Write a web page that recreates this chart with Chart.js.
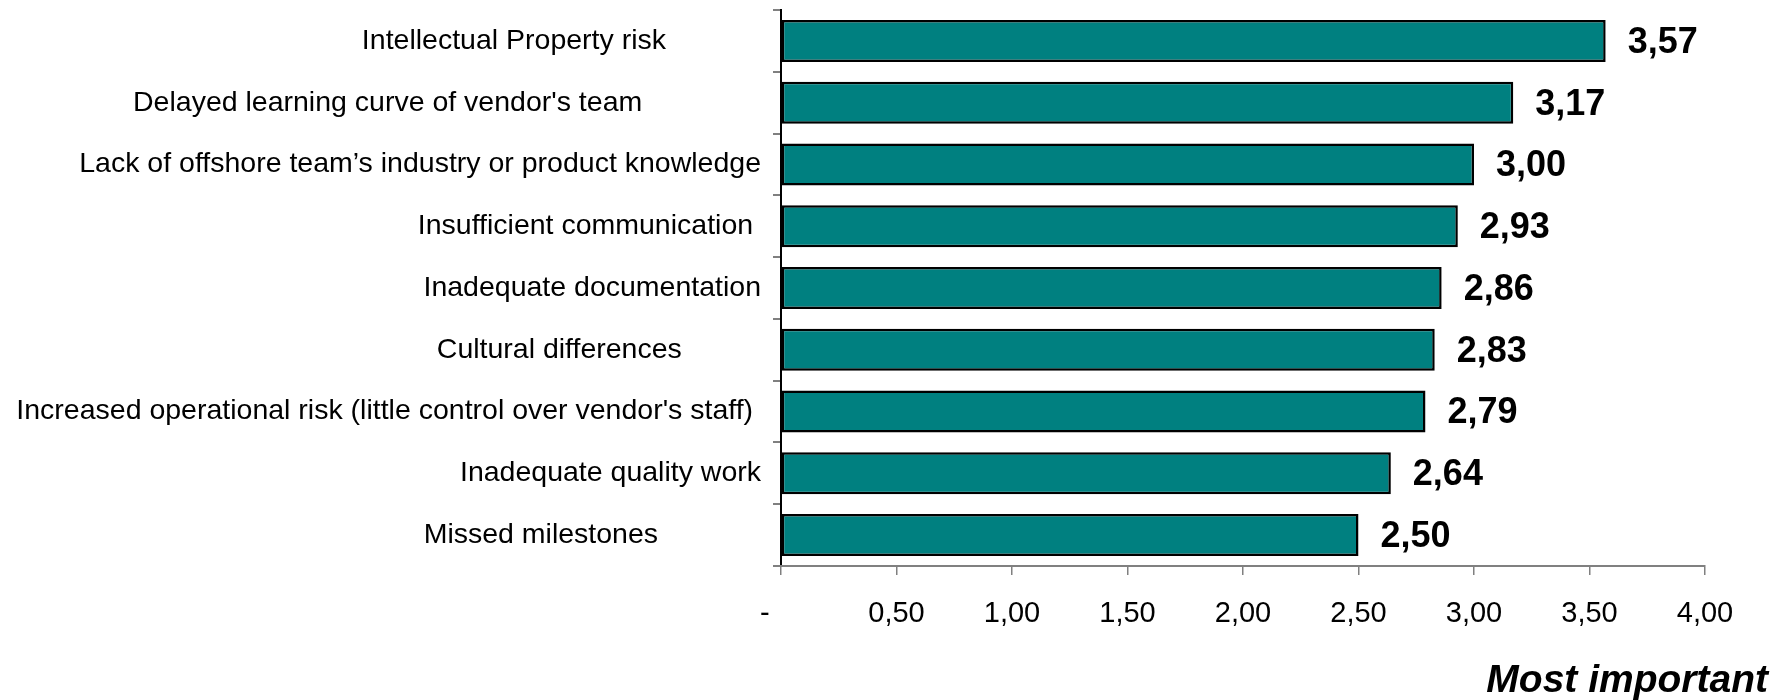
<!DOCTYPE html>
<html>
<head>
<meta charset="utf-8">
<script src="https://cdn.jsdelivr.net/npm/chart.js@4.4.1/dist/chart.umd.min.js"></script>
<style>
  html, body { margin: 0; padding: 0; background: #ffffff; }
  #wrap { width: 1791px; height: 700px; }
</style>
</head>
<body>
<div id="wrap"><canvas id="chart" width="1791" height="700"></canvas></div>
<script>
// Risk factors, top to bottom
const categories = [
  "Intellectual Property risk",
  "Delayed learning curve of vendor's team",
  "Lack of offshore team\u2019s industry or product knowledge",
  "Insufficient communication",
  "Inadequate documentation",
  "Cultural differences",
  "Increased operational risk (little control over vendor's staff)",
  "Inadequate quality work",
  "Missed milestones"
];

// Average importance score per factor
const scores = [3.57, 3.17, 3.00, 2.93, 2.86, 2.83, 2.79, 2.64, 2.50];

// Value axis tick values and their printed labels
const tickValues = [0, 0.5, 1, 1.5, 2, 2.5, 3, 3.5, 4];
const tickLabels = ["-", "0,50", "1,00", "1,50", "2,00", "2,50", "3,00", "3,50", "4,00"];

const axisTitle = "Most important";

const FONT = "'Liberation Sans', Arial, Helvetica, sans-serif";

// Category labels carry trailing blanks, as in the source sheet
const trailingBlanks = [12, 15, 0, 1, 0, 10, 1, 0, 13];

const fmt = v => v.toFixed(2).replace('.', ',');

const valueLabels = {
  id: 'valueLabels',
  afterDatasetsDraw(chart) {
    const ctx = chart.ctx;
    const meta = chart.getDatasetMeta(0);
    ctx.save();
    ctx.font = "bold 36px " + FONT;
    ctx.fillStyle = '#000000';
    ctx.textAlign = 'left';
    ctx.textBaseline = 'middle';
    meta.data.forEach((bar, i) => {
      ctx.fillText(fmt(scores[i]), bar.x + 22, bar.y + 2);
    });
    ctx.restore();
  }
};

const cornerTitle = {
  id: 'cornerTitle',
  afterDraw(chart) {
    const ctx = chart.ctx;
    ctx.save();
    ctx.font = "italic bold 39px " + FONT;
    ctx.fillStyle = '#000000';
    ctx.textAlign = 'right';
    ctx.textBaseline = 'alphabetic';
    ctx.fillText(axisTitle, chart.width - 23, chart.height - 8);
    ctx.restore();
  }
};

new Chart(document.getElementById('chart'), {
  type: 'bar',
  data: {
    labels: categories,
    datasets: [{
      data: scores,
      backgroundColor: '#008080',
      borderColor: '#000000',
      borderWidth: 2.5,
      borderSkipped: false,
      barPercentage: 0.68,
      categoryPercentage: 1.0
    }]
  },
  options: {
    indexAxis: 'y',
    responsive: false,
    animation: false,
    devicePixelRatio: 1,
    layout: { padding: { top: 10, right: 86, bottom: 0, left: 0 } },
    plugins: {
      legend: { display: false },
      tooltip: { enabled: false }
    },
    scales: {
      y: {
        type: 'category',
        afterFit(scale) {
          scale.width = 781;
          scale.paddingTop = 0;
          scale.paddingBottom = 0;
        },
        grid: {
          offset: true,
          drawOnChartArea: false,
          drawTicks: true,
          tickLength: 8,
          color: '#808080',
          lineWidth: 2
        },
        border: { display: true, color: '#000000', width: 2 },
        ticks: {
          padding: 12,
          color: '#000000',
          font: { family: FONT, size: 28.5 },
          callback(value, index) {
            return categories[index] + '\u00a0'.repeat(trailingBlanks[index]);
          }
        }
      },
      x: {
        type: 'linear',
        min: 0,
        max: 4,
        afterFit(scale) {
          scale.height = 134;
          scale.paddingLeft = 0;
          scale.paddingRight = 0;
        },
        afterBuildTicks(scale) { scale.ticks = tickValues.map(v => ({ value: v })); },
        grid: {
          drawOnChartArea: false,
          drawTicks: true,
          tickLength: 9,
          color: '#808080',
          lineWidth: 1.5
        },
        border: { display: true, color: '#808080', width: 2 },
        ticks: {
          padding: 22,
          color: '#000000',
          maxRotation: 0,
          autoSkip: false,
          font: { family: FONT, size: 29 },
          callback(value) {
            const i = tickValues.indexOf(value);
            return i === 0 ? tickLabels[0] + '\u00a0'.repeat(4) : tickLabels[i];
          }
        }
      }
    }
  },
  plugins: [valueLabels, cornerTitle]
});
</script>
</body>
</html>
